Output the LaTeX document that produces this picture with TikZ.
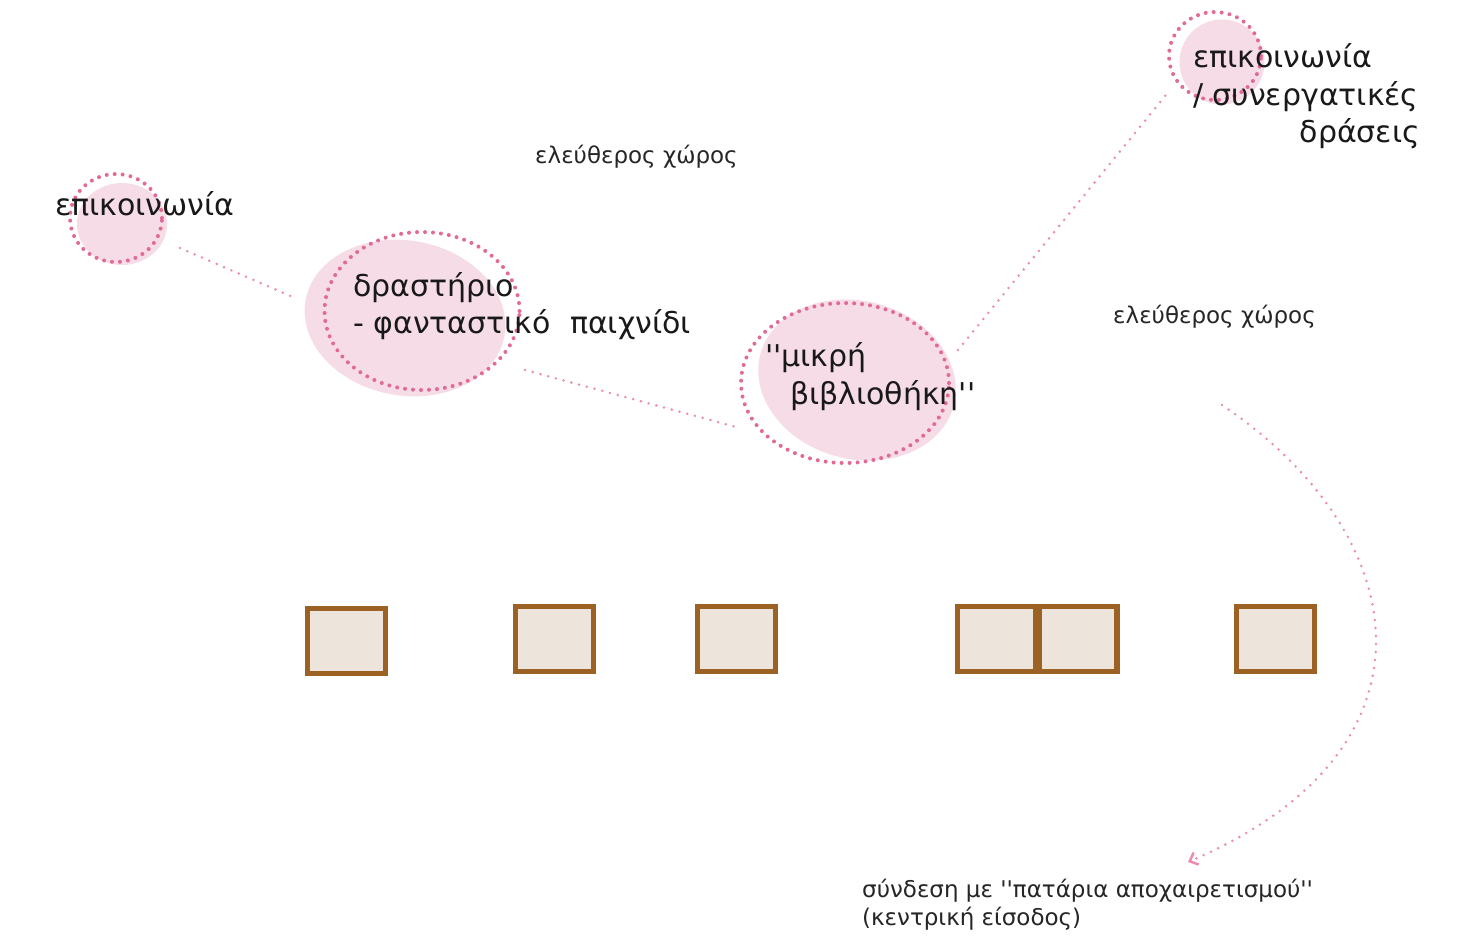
\documentclass[tikz,border=0pt]{standalone}
\usepackage{fontspec}
\newfontfamily\gr{DejaVu Sans}
\usetikzlibrary{shapes.geometric,arrows.meta}
\definecolor{blobpink}{HTML}{F6DCE6}
\definecolor{dotpink}{HTML}{E26A96}
\definecolor{linkpink}{HTML}{EA8DB0}
\definecolor{boxbrown}{HTML}{9B6223}
\definecolor{boxfill}{HTML}{EDE5DB}
\begin{document}
\begin{tikzpicture}[x=1pt,y=-1pt,
 blob/.style={ellipse, fill=blobpink, draw=none, inner sep=0pt},
 ring/.style={ellipse, draw=dotpink, line width=4pt, dash pattern=on 0pt off 8pt, line cap=round, inner sep=0pt},
 link/.style={draw=linkpink, line width=2.8pt, dash pattern=on 0pt off 8pt, line cap=round},
 room/.style={draw=boxbrown, fill=boxfill, line width=5.5pt, minimum width=78pt, minimum height=65pt, inner sep=0pt},
 big/.style={font=\gr\fontsize{30}{36}\selectfont, text=black!90, inner sep=0pt, anchor=base west},
 small/.style={font=\gr\fontsize{23}{28}\selectfont, text=black!85, inner sep=0pt, anchor=base west}]
\useasboundingbox (0,0) rectangle (1463,946);
\fill[white] (0,0) rectangle (1463,946);
% blobs
\node[blob, minimum width=90pt, minimum height=82pt] (b1) at (122,224) {};
\node[ring, minimum width=92pt, minimum height=88pt] (r1) at (116,218) {};
\node[blob, minimum width=202pt, minimum height=155pt, rotate=-10] (b2) at (405,318) {};
\node[ring, minimum width=195pt, minimum height=158pt] (r2) at (422,311) {};
\node[blob, minimum width=200pt, minimum height=158pt, rotate=-15] (b3) at (857,380) {};
\node[ring, minimum width=208pt, minimum height=160pt] (r3) at (845,383) {};
\node[blob, minimum width=85pt, minimum height=85pt] (b4) at (1222,62) {};
\node[ring, minimum width=92pt, minimum height=88pt] (r4) at (1215,56) {};
% texts
\node[big] (t1) at (55,215) {επικοινωνία};
\node[big] (t2a) at (353,296) {δραστήριο};
\node[big] (t2b) at (353,333) {- φανταστικό\ \ παιχνίδι};
\node[big] (t3a) at (765,366) {''μικρή};
\node[big] (t3b) at (790,404) {βιβλιοθήκη''};
\node[big] (t4a) at (1193,67) {επικοινωνία};
\node[big] (t4b) at (1193,105) {/ συνεργατικές};
\node[big, anchor=base east] (t4c) at (1420,142) {δράσεις};
\node[small] (f1) at (535,163) {ελεύθερος χώρος};
\node[small] (f2) at (1113,323) {ελεύθερος χώρος};
\node[small] (e1) at (862,897) {σύνδεση με ''πατάρια αποχαιρετισμού''};
\node[small] (e2) at (862,925) {(κεντρική είσοδος)};
% connectors
\coordinate (l1a) at (180,248); \coordinate (l1b) at (295,298);
\coordinate (l2a) at (525,370); \coordinate (l2b) at (740,428);
\coordinate (l3a) at (958,350); \coordinate (l3b) at (1170,90);
\coordinate (c1) at (1222,405); \coordinate (c2) at (1188,862);
\draw[link] (l1a) -- (l1b);
\draw[link] (l2a) -- (l2b);
\draw[link] (l3a) -- (l3b);
\draw[link, -{Straight Barb[length=7pt,width=13pt,line width=2.5pt]}] (c1) .. controls (1415,535) and (1450,750) .. (c2);
% rooms
\node[room] (s1) at (346.5,641) {};
\node[room] (s2) at (554.5,639) {};
\node[room] (s3) at (736.5,639) {};
\node[room] (s4) at (996.5,639) {};
\node[room] (s5) at (1078,639) {};
\node[room] (s6) at (1275.5,639) {};
\end{tikzpicture}
\end{document}
